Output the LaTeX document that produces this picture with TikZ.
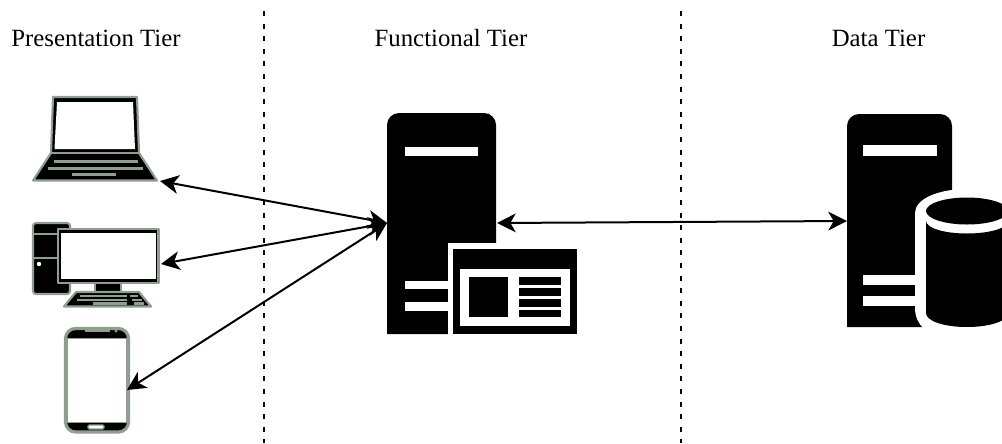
\documentclass[tikz,border=0pt]{standalone}
\usepackage{fontspec}
\setmainfont{Liberation Serif}
\usetikzlibrary{arrows.meta}
\definecolor{iconedge}{HTML}{8F9E8E}
\tikzset{
  x=0.75pt,y=-0.75pt,
  tierlabel/.style={font=\fontsize{18.6}{22}\selectfont,text=black,inner sep=0pt,anchor=base},
  divider/.style={draw=black,line width=1.5pt,dash pattern=on 3.75pt off 5.7pt},
  link/.style={draw=black,line width=1.5pt,{Stealth[length=14pt,width=14pt,inset=4pt]}-{Stealth[length=14pt,width=14pt,inset=4pt]}},
  device/.style={fill=black,draw=iconedge,line width=1.6pt,line join=round},
  glass/.style={fill=white,draw=none},
  keyrow/.style={fill=iconedge,draw=none},
  solid/.style={fill=black,draw=none},
  cut/.style={fill=white,draw=none}
}
\begin{document}
\begin{tikzpicture}
\useasboundingbox (0,0) rectangle (1002,443);
\clip (0,0) rectangle (1002,443);

% labels
\node[tierlabel] (presentation) at (96,46) {Presentation Tier};
\node[tierlabel] (functional) at (451,46) {Functional Tier};
\node[tierlabel] (datatier) at (878.5,46) {Data Tier};

% dividers
\coordinate (d1top) at (263.5,11);
\coordinate (d1bot) at (263.5,443);
\coordinate (d2top) at (680.5,11);
\coordinate (d2bot) at (680.5,443);
\draw[divider] (d1top) -- (d1bot);
\draw[divider] (d2top) -- (d2bot);

% laptop
\draw[device] (53,97) -- (137,97) -- (139,153) -- (157,180.5) -- (33,180.5) -- (51,153) -- cycle;
\draw[iconedge,line width=1.6pt] (51,153) -- (139,153);
\fill[glass] (57,102) -- (133,102) -- (135,149) -- (54.5,149) -- cycle;
\fill[keyrow] (54,159.5) rectangle (138,162.5);
\fill[keyrow] (48,167) rectangle (143,170);
\fill[keyrow] (72,173) rectangle (116,176);

% desktop
\draw[device,rounded corners=2.2pt] (33,223) rectangle (70,294);
\draw[iconedge,line width=1.6pt] (33,234) -- (70,234);
\draw[iconedge,line width=1.6pt] (33,258) -- (70,258);
\fill[white] (39,264) circle (2.2);
\draw[device] (95,283) rectangle (121,292);
\draw[device] (58,229) rectangle (158.5,283);
\fill[glass] (61,232.5) rectangle (156,279);
\draw[device] (76,292) -- (139,292) -- (151,306.5) -- (64,306.5) -- cycle;
\fill[keyrow] (80,294.5) rectangle (127,297);
\fill[keyrow] (77,298.5) rectangle (127,301);
\fill[keyrow] (93,302) rectangle (127,304.5);
\fill[keyrow] (129.5,294.5) rectangle (138,297);
\fill[keyrow] (132,298.5) rectangle (142,301);
\fill[keyrow] (134,302) rectangle (144,304.5);

% phone
\draw[fill=black,draw=iconedge,line width=2.4pt,rounded corners=7.5pt] (65.5,328.5) rectangle (128.5,432);
\draw[fill=white,draw=iconedge,line width=0.7pt] (67.5,338) rectangle (126.5,422);
\fill[keyrow] (85,329.5) rectangle (110,331.5);
\fill[keyrow] (116,331) circle (1.7);
\draw[fill=white,draw=iconedge,line width=1pt,rounded corners=1pt] (88,425) rectangle (104,429);

% application server
\fill[solid] (387,334) [rounded corners=9pt] -- (387,113) -- (496,113) [sharp corners] -- (496,334) -- cycle;
\fill[cut] (405,147) rectangle (478,156);
\fill[cut] (405,281) rectangle (448,289);
\fill[cut] (405,302) rectangle (448,311);
\fill[cut] (448,243) rectangle (500,340);
\fill[solid] (453,249) rectangle (577,334);
\fill[cut] (460,269) rectangle (570,326);
\fill[solid] (469,277) rectangle (508,317);
\fill[solid] (519,277) rectangle (561,285);
\fill[solid] (519,288) rectangle (561,296);
\fill[solid] (519,299) rectangle (561,307);
\fill[solid] (519,310) rectangle (561,317);

% data server
\fill[solid] (847,327) [rounded corners=9pt] -- (847,114) -- (952,114) [sharp corners] -- (952,327) -- cycle;
\fill[cut] (863,145) rectangle (937,156);
\fill[cut] (863,275) rectangle (915,285);
\fill[cut] (863,296) rectangle (915,306);
\fill[cut] (915,213) .. controls (915,199) and (938,189) .. (967,189) -- (1010,189) -- (1010,340) -- (945,340) .. controls (928,335) and (915,325) .. (915,308) -- cycle;
\fill[solid] (926,221) .. controls (926,228) and (944,233.5) .. (967,233.5) .. controls (990,233.5) and (1008,228) .. (1008,221) -- (1008,313) .. controls (1008,321) and (990,327) .. (967,327) .. controls (944,327) and (926,321) .. (926,313) -- cycle;
\fill[solid] (967,211) ellipse [x radius=41,y radius=13.5];

% connector ends
\coordinate (laptopport) at (160,181);
\coordinate (desktopport) at (161,264);
\coordinate (phoneport) at (127,390);
\coordinate (appwest) at (387,223);
\coordinate (appeast) at (497,223);
\coordinate (datawest) at (847,221);
\draw[link] (laptopport) -- (appwest);
\draw[link] (desktopport) -- (appwest);
\draw[link] (phoneport) -- (appwest);
\draw[link] (appeast) -- (datawest);
\end{tikzpicture}
\end{document}
